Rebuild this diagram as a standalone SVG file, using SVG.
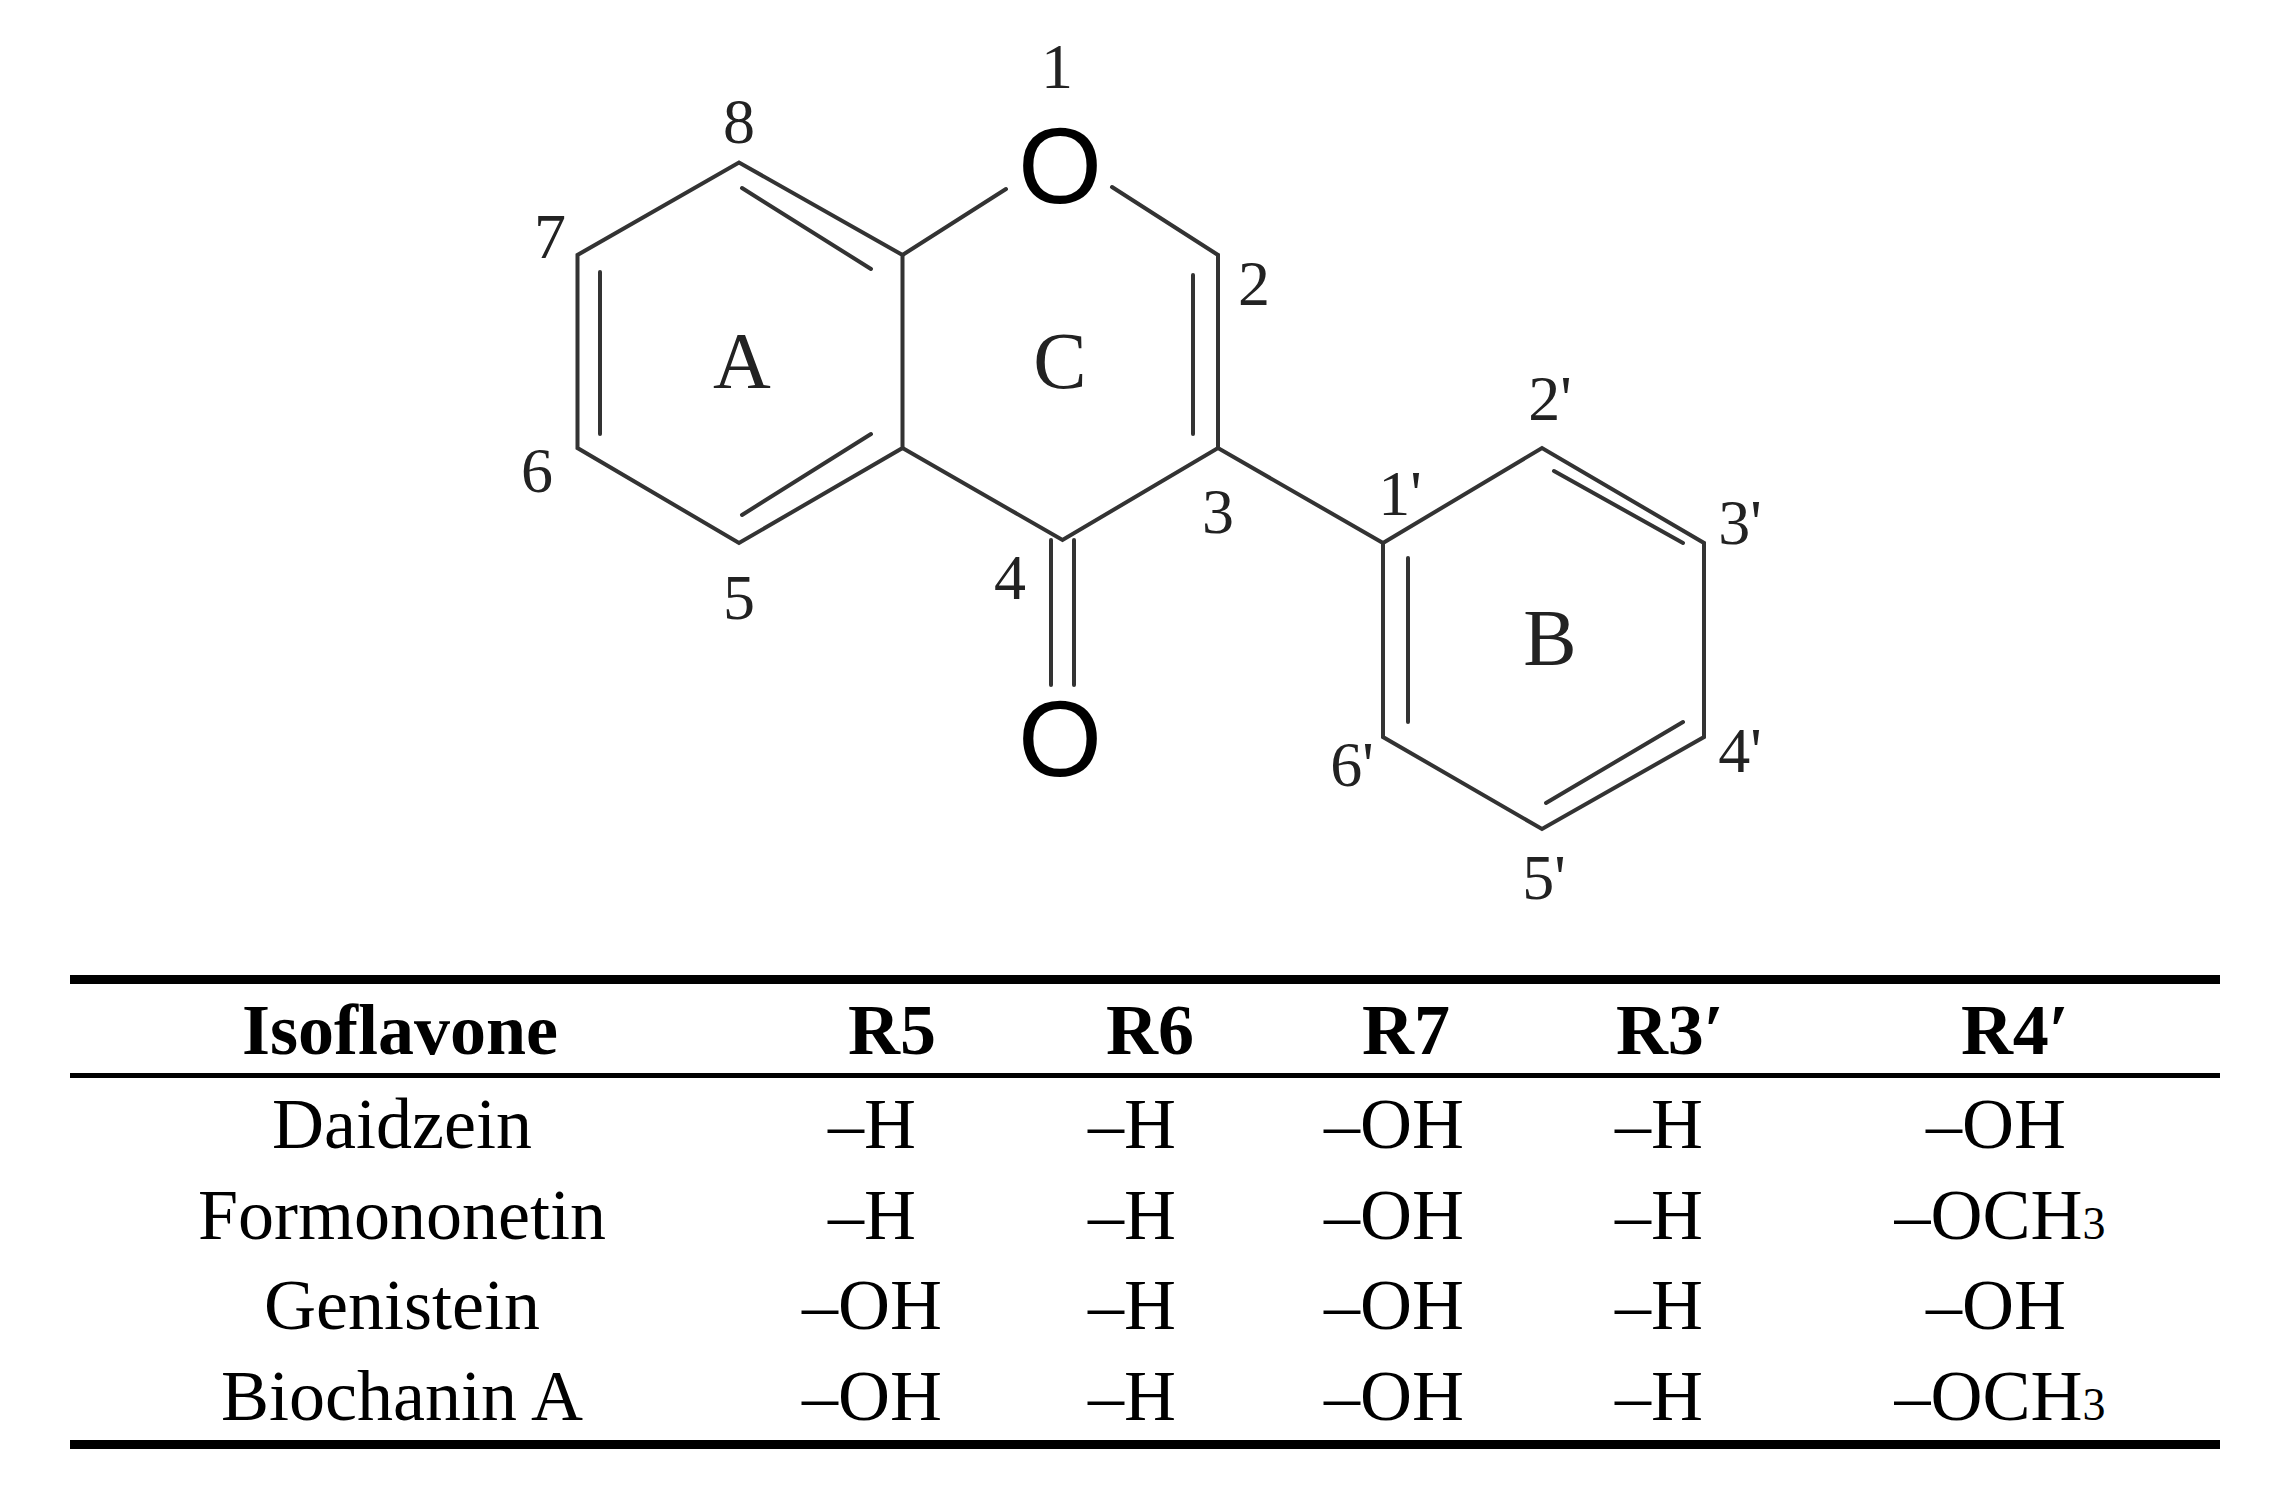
<svg xmlns="http://www.w3.org/2000/svg" width="2291" height="1491" viewBox="0 0 2291 1491">
<style>
.b{stroke:#333;stroke-width:4;fill:none;stroke-linecap:round}
.lab{font-family:"Liberation Serif",serif;font-size:64px;fill:#222;text-anchor:middle}
.ring{font-family:"Liberation Serif",serif;font-size:80px;fill:#222;text-anchor:middle}
.atom{font-family:"Liberation Sans",sans-serif;font-size:108px;fill:#000;text-anchor:middle}
.t{font-family:"Liberation Serif",serif;font-size:72px;fill:#000;text-anchor:middle}
.h{font-weight:bold}
</style>
<rect width="2291" height="1491" fill="#fff"/>
<g id="bonds">
<polyline class="b" points="902.5,255 739,162.5 577.5,255 577.5,448 739,543 902.5,448 902.5,255"/>
<line class="b" x1="742" y1="188" x2="871" y2="269"/>
<line class="b" x1="600" y1="272" x2="600" y2="434"/>
<line class="b" x1="742" y1="515" x2="871" y2="434"/>
<line class="b" x1="902.5" y1="255" x2="1006" y2="189"/>
<line class="b" x1="1112" y1="187" x2="1218" y2="255"/>
<line class="b" x1="1218" y1="255" x2="1218" y2="448"/>
<line class="b" x1="1193" y1="275" x2="1193" y2="434"/>
<polyline class="b" points="902.5,448 1062.5,540 1218,448 1383,543"/>
<line class="b" x1="1051" y1="540" x2="1051" y2="685"/>
<line class="b" x1="1074" y1="540" x2="1074" y2="685"/>
<polyline class="b" points="1383,543 1542,448 1704,543 1704,737 1542,829 1383,737 1383,543"/>
<line class="b" x1="1554" y1="471" x2="1683" y2="543"/>
<line class="b" x1="1408" y1="558" x2="1408" y2="722"/>
<line class="b" x1="1683" y1="722" x2="1546" y2="803"/>
</g>
<g id="atoms">
<text class="atom" x="1060" y="203">O</text>
<text class="atom" x="1060" y="776">O</text>
</g>
<g id="labels">
<text class="lab" x="1057" y="88">1</text>
<text class="lab" x="739" y="143">8</text>
<text class="lab" x="550" y="258">7</text>
<text class="lab" x="1254" y="305">2</text>
<text class="lab" x="537" y="492">6</text>
<text class="lab" x="1218" y="533">3</text>
<text class="lab" x="1400" y="515">1'</text>
<text class="lab" x="1550" y="420">2'</text>
<text class="lab" x="1740" y="544">3'</text>
<text class="lab" x="739" y="619">5</text>
<text class="lab" x="1010" y="599">4</text>
<text class="lab" x="1352" y="786">6'</text>
<text class="lab" x="1740" y="772">4'</text>
<text class="lab" x="1544" y="899">5'</text>
<text class="ring" x="742" y="388">A</text>
<text class="ring" x="1060" y="388">C</text>
<text class="ring" x="1550" y="665">B</text>
</g>
<g id="table">
<rect x="70" y="975" width="2150" height="9" fill="#000"/>
<rect x="70" y="1073" width="2150" height="5" fill="#000"/>
<rect x="70" y="1440" width="2150" height="9" fill="#000"/>
<g class="t h">
<text x="400" y="1054">Isoflavone</text><text x="892" y="1054">R5</text><text x="1150" y="1054">R6</text><text x="1406" y="1054">R7</text><text x="1670" y="1054">R3′</text><text x="2015" y="1054">R4′</text>
</g>
<g class="t">
<text x="402" y="1148">Daidzein</text><text x="872" y="1148">–H</text><text x="1132" y="1148">–H</text><text x="1394" y="1148">–OH</text><text x="1659" y="1148">–H</text><text x="1996" y="1148">–OH</text>
<text x="402" y="1239">Formononetin</text><text x="872" y="1239">–H</text><text x="1132" y="1239">–H</text><text x="1394" y="1239">–OH</text><text x="1659" y="1239">–H</text><text x="2000" y="1239">–OCH<tspan font-size="46">3</tspan></text>
<text x="402" y="1329">Genistein</text><text x="872" y="1329">–OH</text><text x="1132" y="1329">–H</text><text x="1394" y="1329">–OH</text><text x="1659" y="1329">–H</text><text x="1996" y="1329">–OH</text>
<text x="402" y="1420">Biochanin A</text><text x="872" y="1420">–OH</text><text x="1132" y="1420">–H</text><text x="1394" y="1420">–OH</text><text x="1659" y="1420">–H</text><text x="2000" y="1420">–OCH<tspan font-size="46">3</tspan></text>
</g>
</g>
</svg>
